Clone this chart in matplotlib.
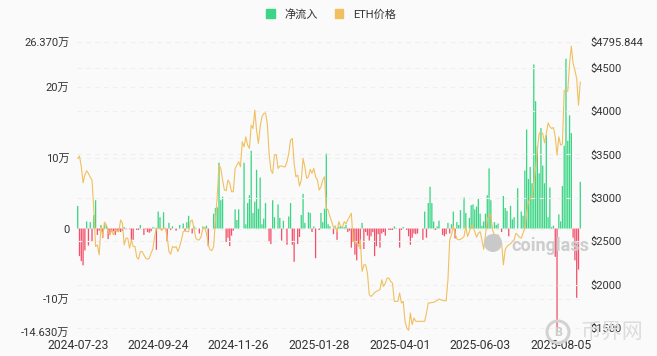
# -*- coding: utf-8 -*-
import matplotlib
matplotlib.use('Agg')
import matplotlib.pyplot as plt
from matplotlib.patches import Patch, Circle
import numpy as np
import pandas as pd

plt.rcParams['font.family'] = ['Roboto', 'Noto Sans CJK SC', 'DejaVu Sans']

#%% data
first_day = '2024-07-23'
n_days = 282

netflow = [
    3.2, -3.9, -4.6, -5.2, -3.1, 1.0, -2.4, 0.9, -1.8, 1.9,
    4.0, -0.9, -0.3, 0.5, -1.3, 0.9, 0.5, -1.5, -0.9, -0.5,
    -0.4, -0.9, -0.3, -0.3, -0.5, -0.3, 0.2, -0.1, 0, -0.1,
    -1.6, -1.6, 0, -0.2, -0.2, 0.5, 0, -0.9, -0.1, -0.5,
    -0.6, -0.4, 0.2, 0.1, -3.0, 2.4, 1.6, -0.1, 2.3, -0.1,
    -1.9, 0.8, -0.2, 0.3, 0, -0.3, 0, 0.5, 0, 0.7,
    -0.4, 0.9, 1.8, 0, -0.7, 0.3, 0.1, 0, -0.7, 0,
    0.3, 0.2, 0.4, -2.5, 0, 0, 2.1, 2.9, 3.0, 9.3,
    4.0, 4.5, 0, -1.9, -1.3, -2.5, -1.0, -0.3, 2.7, 1.2,
    2.7, 0, 0, 9.3, 0.6, 3.6, 4.7, 11.0, 2.2, 3.8,
    8.3, 2.8, 7.2, 0.6, 1.4, 3.6, 0, -1.8, -2.2, 4.0,
    1.6, 0, 3.4, 1.5, -1.7, 1.1, 0, -2.3, 1.7, 3.6,
    -2.3, -4.7, 0, -2.2, -1.2, 1.9, 4.9, 0.8, 0, 2.3,
    2.2, -0.5, 0.3, -4.2, 0, -0.2, 2.2, 0.9, 2.8, 10.6,
    0.6, 0.3, 0, -0.8, 0.4, -1.6, 0.3, 0.3, 0.2, 0.2,
    0.5, -0.5, -0.3, -2.7, -1.9, -3.7, -4.5, -2.2, -2.9, 0.8,
    -2.9, -0.5, -1.0, -1.7, -1.1, -0.5, -3.9, -2.5, -0.8, -2.7,
    -0.7, -0.5, -1.0, 0, -0.2, -0.2, -0.2, 0.3, 0.1, 0,
    -2.7, -0.2, 0.2, 0, -0.2, -1.1, -2.3, -1.3, -0.7, -0.8,
    -0.7, 0, 0, -1.6, 2.4, -1.3, 3.6, 5.9, 3.6, 1.0,
    -0.2, 0.3, 1.1, 0, -0.9, -1.1, -0.8, 0.8, -0.7, 0.6,
    2.4, -1.4, 0.9, 0.5, 2.6, 0, 4.4, 2.2, 0, 1.5,
    3.3, 3.4, 2.7, 3.1, 4.2, 2.1, 0.4, 1.0, 2.1, 4.7,
    8.5, 4.0, 0, 0.9, 0.5, 0.7, 0, -0.5, 4.6, 2.9,
    2.5, -1.1, 3.2, 1.3, 1.6, 0, 5.7, 0, 2.4, 1.8,
    8.2, 14.0, 7.0, 8.7, 6.4, 23.2, 18.0, 11.6, 7.8, 14.2,
    8.9, 6.4, 13.2, 1.6, 5.8, 0.2, 0.4, -4.0, -14.6, 2.0,
    1.0, 6.0, 11.7, 24.0, 12.4, 16.0, 13.5, -1.3, -4.5, -9.8,
    -5.8, 6.6,
]

eth_price = [
    3454, 3481, 3358, 3174, 3263, 3312, 3282, 3236, 3205, 2860,
    2439, 2458, 2343, 2669, 2554, 2719, 2688, 2630, 2573, 2630,
    2573, 2630, 2611, 2611, 2745, 2707, 2458, 2535, 2535, 2420,
    2516, 2439, 2439, 2316, 2293, 2381, 2381, 2343, 2305, 2293,
    2305, 2362, 2408, 2554, 2650, 2650, 2650, 2623, 2650, 2650,
    2554, 2381, 2351, 2439, 2427, 2439, 2381, 2439, 2516, 2611,
    2623, 2611, 2611, 2726, 2745, 2650, 2535, 2516, 2516, 2554,
    2650, 2661, 2592, 2458, 2401, 2393, 2439, 2745, 3014, 3377,
    3339, 3205, 3090, 3083, 3205, 3167, 3071, 3071, 3339, 3377,
    3416, 3358, 3646, 3588, 3703, 3607, 3569, 3837, 3799, 4010,
    3780, 3627, 3818, 3933, 3971, 3979, 3856, 3512, 3320, 3282,
    3492, 3500, 3339, 3366, 3366, 3358, 3358, 3416, 3512, 3665,
    3684, 3397, 3243, 3263, 3136, 3205, 3454, 3358, 3224, 3243,
    3328, 3282, 3339, 3243, 3205, 3090, 3128, 3205, 3243, 2879,
    2860, 2784, 2726, 2661, 2669, 2611, 2726, 2669, 2661, 2726,
    2699, 2745, 2784, 2822, 2496, 2496, 2477, 2439, 2516, 2152,
    2228, 2228, 2132, 1883, 1864, 1883, 1910, 1922, 1933, 1941,
    2056, 1979, 2017, 2075, 2075, 2037, 2017, 1807, 1807, 1807,
    1903, 1788, 1807, 1577, 1500, 1473, 1673, 1539, 1615, 1577,
    1577, 1577, 1577, 1577, 1577, 1673, 1788, 1788, 1795, 1795,
    1807, 1818, 1834, 1826, 1818, 1814, 1814, 2056, 2516, 2573,
    2669, 2592, 2527, 2516, 2523, 2535, 2554, 2669, 2554, 2611,
    2676, 2676, 2611, 2546, 2592, 2611, 2516, 2408, 2573, 2745,
    2810, 2795, 2630, 2573, 2573, 2573, 2535, 2485, 2228, 2401,
    2439, 2458, 2470, 2496, 2516, 2592, 2573, 2546, 2535, 2592,
    2650, 2822, 2956, 2983, 3014, 3167, 3339, 3550, 3741, 3761,
    3741, 3634, 3741, 3864, 3818, 3799, 3810, 3703, 3492, 3703,
    3607, 3619, 4239, 4232, 4228, 4546, 4749, 4546, 4469, 4374,
    4067, 4335,
]

left_ticks = [-14.63, -10, 0, 10, 20, 26.37]
left_labels = ['-14.630万', '-10万', '0', '10万', '20万', '26.370万']
right_ticks = [1500, 2000, 2500, 3000, 3500, 4000, 4500, 4795.844]
right_labels = ['$1500', '$2000', '$2500', '$3000', '$3500', '$4000', '$4500', '$4795.844']
date_step = 45

#%% figure
W, H = 657, 356
bg = '#fafafa'
green = '#3ad585'
red = '#f5506a'
yellow = '#f0c060'
grid_col = '#efefef'
txt = '#333333'

fig = plt.figure(figsize=(W/100, H/100), dpi=100, facecolor=bg)
ax = fig.add_axes([77/W, 1-332/H, 504/W, 290/H], facecolor=bg)

netflow = np.array(netflow)
eth_price = np.array(eth_price)
x = np.arange(n_days)
days = pd.bdate_range(first_day, periods=n_days)

bars = ax.bar(x, netflow, width=0.72, color=np.where(netflow >= 0, green, red), linewidth=0, zorder=2)
for b in bars:
    b.set_snap(False)
ax.set_xlim(-0.4, n_days-0.6)
ax.set_ylim(-14.63, 26.37)
ax.set_yticks(left_ticks)
ax.set_yticklabels(left_labels)
ax.set_xticks(x[::date_step])
ax.set_xticklabels([d.strftime('%Y-%m-%d') for d in days[::date_step]])
ax.tick_params(axis='y', length=0, labelsize=8, labelcolor=txt, pad=5.5)
ax.tick_params(axis='x', length=0, labelsize=8.7, labelcolor=txt, pad=5)
ax.grid(axis='y', color=grid_col, linestyle=(0, (4, 4)), linewidth=0.8, zorder=0)
ax.set_axisbelow(True)

ax2 = ax.twinx()
ax2.plot(x, eth_price, color=yellow, linewidth=0.8, zorder=3)
ax2.set_ylim(1454, 4795.844)
ax2.set_yticks(right_ticks)
ax2.set_yticklabels(right_labels)
ax2.tick_params(axis='y', length=0, labelsize=8, labelcolor=txt, pad=7)
ax2.grid(axis='y', color=grid_col, linestyle=(0, (4, 4)), linewidth=0.8, zorder=0)
ax2.patch.set_visible(False)

for a in (ax, ax2):
    for s in a.spines.values():
        s.set_visible(False)

#%% legend
handles = [Patch(color=green), Patch(color=yellow)]
fig.legend(handles, ['净流入', 'ETH价格'], loc='center', bbox_to_anchor=(331/W, 1-14/H),
           ncol=2, frameon=False, fontsize=8, labelcolor=txt,
           handlelength=0.75, handleheight=0.9, handletextpad=0.9, columnspacing=1.5)

#%% watermarks
fig.text(550/W, 1-246/H, 'coinglass', fontsize=13, fontweight='bold', color='#cdcdcd',
         ha='center', va='center', zorder=1)
fig.add_artist(Circle((493, H-243), 9, transform=None, color='#c9c9c9', linewidth=0, zorder=1))
fig.add_artist(Circle((558, H-332), 11, transform=None, fill=False, edgecolor='#d2d2d2', linewidth=2.2))
fig.text(558/W, 1-332/H, 'B', fontsize=9, fontweight='bold', color='#cccccc', ha='center', va='center')
fig.text(612/W, 1-332/H, '币界网', fontsize=15, color='#dcdcdc', ha='center', va='center', zorder=1)

fig.savefig('out.png', dpi=100, facecolor=bg)
